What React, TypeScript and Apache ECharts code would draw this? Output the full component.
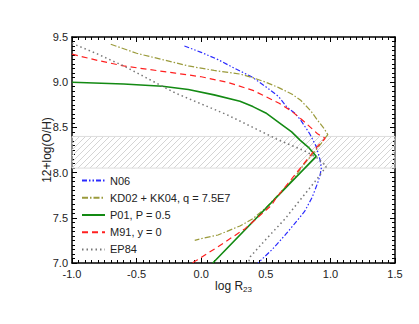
import React, { useEffect, useRef } from "react";
import * as echarts from "echarts";

const xTicks = [-1.0, 1.5];
const yTicks = [7.0, 9.5];
const bandRange = [8.05, 8.4];

const seriesNames = ["N06", "KD02 + KK04, q = 7.5E7", "P01, P = 0.5", "M91, y = 0", "EP84"];

const n06 = [
  [-0.13, 9.40], [0.0, 9.33], [0.13, 9.25], [0.25, 9.16], [0.39, 9.06], [0.5, 8.95],
  [0.6, 8.84], [0.66, 8.73], [0.73, 8.65], [0.77, 8.58], [0.84, 8.43], [0.89, 8.29],
  [0.92, 8.14], [0.93, 8.05], [0.92, 7.97], [0.9, 7.88], [0.86, 7.73], [0.8, 7.57],
  [0.72, 7.43], [0.65, 7.31], [0.55, 7.15], [0.44, 7.0],
];
const kd02 = [
  [-0.7, 9.42], [-0.5, 9.32], [-0.3, 9.25], [-0.1, 9.18], [0.1, 9.13], [0.3, 9.09],
  [0.4, 9.05], [0.5, 9.0], [0.6, 8.94], [0.7, 8.87], [0.77, 8.8], [0.85, 8.68],
  [0.9, 8.58], [0.95, 8.49], [0.98, 8.42], [0.9, 8.27], [0.8, 8.1], [0.72, 7.94],
  [0.6, 7.76], [0.5, 7.61], [0.4, 7.49], [0.3, 7.41], [0.2, 7.35], [0.13, 7.31],
  [0.0, 7.27], [-0.05, 7.25],
];
const p01 = [
  [-1.0, 9.0], [-0.6, 8.98], [-0.3, 8.955], [-0.1, 8.92], [0.1, 8.86], [0.3, 8.79],
  [0.4, 8.73], [0.5, 8.66], [0.61, 8.545], [0.7, 8.45], [0.765, 8.36], [0.83, 8.28],
  [0.89, 8.18], [0.09, 7.0],
];
const m91 = [
  [-1.0, 9.31], [-0.8, 9.24], [-0.6, 9.18], [-0.4, 9.14], [-0.2, 9.1], [0.0, 9.06],
  [0.2, 9.0], [0.4, 8.91], [0.6, 8.77], [0.7, 8.68], [0.8, 8.56], [0.9, 8.43],
  [0.96, 8.38], [0.9, 8.29], [0.84, 8.18], [0.7, 7.93], [0.58, 7.72], [0.545, 7.64],
  [0.34, 7.38], [0.13, 7.18], [-0.035, 7.03], [-0.07, 7.0],
];
const ep84 = [
  [-1.0, 9.43], [-0.8, 9.31], [-0.6, 9.18], [-0.4, 9.03], [-0.2, 8.88], [0.0, 8.76],
  [0.2, 8.64], [0.4, 8.5], [0.6, 8.36], [0.8, 8.24], [0.9, 8.16], [0.97, 8.07],
  [0.88, 7.9], [0.75, 7.67], [0.65, 7.49], [0.5, 7.26], [0.38, 7.07], [0.365, 7.0],
];

const FONT = "Liberation Sans, Arial, sans-serif";
const GRID = { left: 72, right: 24, top: 37, bottom: 61 };

function makeHatch() {
  const c = document.createElement("canvas");
  c.width = 6;
  c.height = 6;
  const ctx = c.getContext("2d");
  if (ctx) {
    ctx.strokeStyle = "#d4d4d4";
    ctx.lineWidth = 1;
    ctx.beginPath();
    ctx.moveTo(0, 6);
    ctx.lineTo(6, 0);
    ctx.moveTo(-1, 1);
    ctx.lineTo(1, -1);
    ctx.moveTo(5, 7);
    ctx.lineTo(7, 5);
    ctx.stroke();
  }
  return c;
}

function axisCommon() {
  return {
    type: "value" as const,
    interval: 0.5,
    axisLine: { show: true, onZero: false, lineStyle: { color: "#000", width: 1.5 } },
    axisTick: { show: true, inside: true, length: 5, lineStyle: { color: "#000", width: 1 } },
    minorTick: { show: true, splitNumber: 10, length: 3, lineStyle: { color: "#000", width: 1 } },
    splitLine: { show: false },
    minorSplitLine: { show: false },
  };
}

function hiddenAxis() {
  return {
    type: "value" as const,
    interval: 0.5,
    axisLine: { show: false, onZero: false },
    axisTick: { show: false },
    minorTick: { show: false },
    axisLabel: { show: false },
    splitLine: { show: false },
    minorSplitLine: { show: false },
  };
}

export default function App() {
  const axesRef = useRef<HTMLDivElement>(null);
  const plotRef = useRef<HTMLDivElement>(null);
  useEffect(() => {
    if (!axesRef.current || !plotRef.current) return;
    document.body.style.margin = "0";

    // Frame chart: axes, ticks and tick labels.
    const axesChart = echarts.init(axesRef.current, undefined, { renderer: "svg" });
    axesChart.setOption({
      animation: false,
      textStyle: { fontFamily: FONT },
      grid: GRID,
      xAxis: [
        {
          ...axisCommon(),
          min: xTicks[0],
          max: xTicks[1],
          position: "bottom",
          axisLabel: { formatter: (v: number) => v.toFixed(1), fontSize: 11, color: "#222", margin: 5, fontFamily: FONT },
        },
        { ...axisCommon(), min: xTicks[0], max: xTicks[1], position: "top", axisLabel: { show: false } },
      ],
      yAxis: [
        {
          ...axisCommon(),
          min: yTicks[0],
          max: yTicks[1],
          position: "left",
          axisLabel: { formatter: (v: number) => v.toFixed(1), fontSize: 11, color: "#222", margin: 4, fontFamily: FONT },
        },
        { ...axisCommon(), min: yTicks[0], max: yTicks[1], position: "right", axisLabel: { show: false } },
      ],
      series: [
        {
          name: "frame",
          type: "line",
          data: p01,
          symbol: "none",
          silent: true,
          lineStyle: { opacity: 0 },
        },
      ],
    });

    // Plot chart: band, curves, legend and axis names.
    const plotChart = echarts.init(plotRef.current, undefined, { renderer: "svg" });
    const hatch = makeHatch();
    const lineSeries = (name: string, data: number[][], color: string, type: any, width: number) => ({
      name,
      type: "line",
      data,
      symbol: "none",
      smooth: false,
      lineStyle: { color, type, width },
      itemStyle: { color },
      z: 3,
    });
    const p01Series: any = lineSeries(seriesNames[2], p01, "#138a13", "solid", 1.6);
    p01Series.markArea = {
      silent: true,
      z: 1,
      itemStyle: {
        color: { image: hatch, repeat: "repeat" },
        borderColor: "#dddddd",
        borderWidth: 1,
      },
      data: [[{ yAxis: bandRange[0] }, { yAxis: bandRange[1] }]],
    };
    plotChart.setOption({
      animation: false,
      backgroundColor: "transparent",
      textStyle: { fontFamily: FONT },
      grid: GRID,
      legend: {
        data: seriesNames,
        orient: "vertical",
        left: 76,
        top: 170,
        itemWidth: 23,
        itemHeight: 14,
        itemGap: 6,
        itemStyle: { opacity: 0 },
        textStyle: { fontFamily: FONT, fontSize: 11, color: "#222" },
      },
      xAxis: [
        {
          ...hiddenAxis(),
          min: xTicks[0],
          max: xTicks[1],
          position: "bottom",
          name: "{a|log R}{b|23}",
          nameLocation: "middle",
          nameGap: 16,
          nameMoveOverlap: false,
          nameTextStyle: {
            rich: {
              a: { fontSize: 12, color: "#222", fontFamily: FONT },
              b: { fontSize: 8, color: "#222", fontFamily: FONT, verticalAlign: "bottom", padding: [6, 0, 0, 0] },
            },
          },
        },
      ],
      yAxis: [
        {
          ...hiddenAxis(),
          min: yTicks[0],
          max: yTicks[1],
          position: "left",
          name: "12+log(O/H)",
          nameLocation: "middle",
          nameGap: 19,
          nameMoveOverlap: false,
          nameTextStyle: { fontSize: 12, color: "#222", fontFamily: FONT },
        },
      ],
      series: [
        lineSeries(seriesNames[0], n06, "#2a2aff", [5, 2, 1.5, 2, 1.5, 2], 1.2),
        lineSeries(seriesNames[1], kd02, "#9b9b3c", [6, 2, 1.5, 2], 1.2),
        p01Series,
        lineSeries(seriesNames[3], m91, "#ff2020", [6, 4], 1.2),
        lineSeries(seriesNames[4], ep84, "#777777", [1.5, 3], 1.5),
      ],
    });
    return () => {
      plotChart.dispose();
      axesChart.dispose();
    };
  }, []);
  return (
    <div style={{ position: "relative", width: 419, height: 324 }}>
      <div ref={axesRef} style={{ position: "absolute", left: 0, top: 0, width: 419, height: 324 }} />
      <div ref={plotRef} style={{ position: "absolute", left: 0, top: 0, width: 419, height: 324 }} />
    </div>
  );
}
